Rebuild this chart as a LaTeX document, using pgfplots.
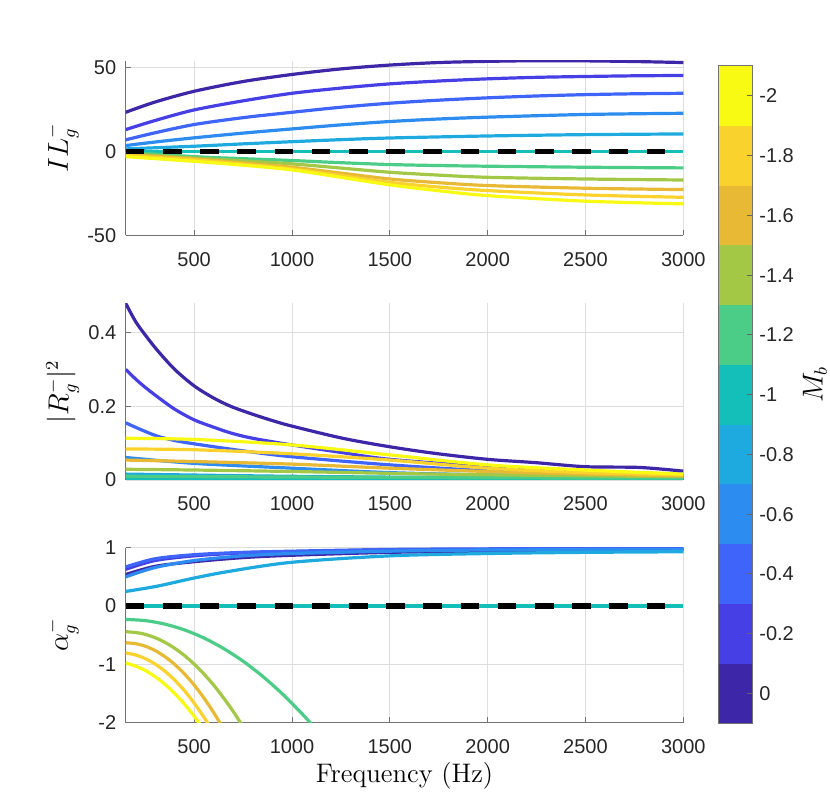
\documentclass[border=0pt]{standalone}
\usepackage{fontspec}
\usepackage{pgfplots}
\pgfplotsset{compat=1.18}
\newfontfamily\tickfont{Liberation Sans}
\definecolor{c00}{RGB}{62,38,168}
\definecolor{c02}{RGB}{71,63,230}
\definecolor{c04}{RGB}{62,100,250}
\definecolor{c06}{RGB}{45,140,240}
\definecolor{c08}{RGB}{30,170,223}
\definecolor{c10}{RGB}{20,190,185}
\definecolor{c12}{RGB}{75,205,135}
\definecolor{c14}{RGB}{162,200,70}
\definecolor{c16}{RGB}{232,185,52}
\definecolor{c18}{RGB}{250,210,45}
\definecolor{c20}{RGB}{249,250,20}
\pgfplotsset{
  myax/.style={
    scale only axis, width=278.8pt, anchor=south west,
    xmin=150, xmax=3000,
    axis x line=bottom, axis y line=left,
    axis line style={-, black!55, line width=0.5pt},
    xtick={500,1000,1500,2000,2500,3000},
    xticklabels={500,1000,1500,2000,2500,3000},
    grid=major, major grid style={color=black!13, line width=0.45pt},
    tick align=inside, major tick length=2.8pt,
    tick style={black!55, line width=0.5pt},
    ticklabel style={font=\tickfont\fontsize{10}{12}\selectfont, text=black!85},
    xticklabel style={yshift=-4.9pt},
    yticklabel style={xshift=-1.2pt},
    ylabel style={at={(axis description cs:-0.113,0.5)}, anchor=center, font=\fontsize{13.4}{15}\selectfont},
    every axis plot/.append style={line width=1.6pt, smooth},
  },
  dashz/.style={black, line width=2.6pt, dash pattern=on 9.3pt off 9.3pt, sharp plot},
}
\begin{document}
\begin{tikzpicture}
\useasboundingbox (0,0) rectangle (415pt,406pt);
% ---------------- top: IL ----------------
\begin{axis}[myax, at={(62.85pt,288.35pt)}, height=87.3pt,
  ymin=-50, ymax=53.9, ytick={-50,0,50}, yticklabels={-50,0,50},
  ylabel={$IL_g^-$}]
\addplot[c00] coordinates {(150,23.2) (300,29.3) (500,35.7) (750,41.5) (1000,45.7) (1250,49.0) (1500,51.3) (1750,52.8) (2000,53.5) (2250,53.9) (2500,53.8) (2750,53.4) (3000,52.8)};
\addplot[c02] coordinates {(150,12.9) (300,18.3) (500,24.6) (750,30.0) (1000,34.5) (1250,37.6) (1500,40.1) (1750,41.8) (2000,43.1) (2250,44.0) (2500,44.5) (2750,44.9) (3000,45.1)};
\addplot[c04] coordinates {(150,6.8) (300,11.0) (500,15.9) (750,20.0) (1000,23.2) (1250,26.2) (1500,28.6) (1750,30.4) (2000,31.8) (2250,32.9) (2500,33.7) (2750,34.2) (3000,34.5)};
\addplot[c06] coordinates {(150,3.4) (300,5.5) (500,8.0) (750,10.8) (1000,13.3) (1250,15.7) (1500,17.7) (1750,19.2) (2000,20.3) (2500,21.9) (3000,22.6)};
\addplot[c08] coordinates {(150,1.4) (500,3.0) (750,4.4) (1000,5.7) (1250,6.9) (1500,7.9) (2000,9.1) (2500,9.9) (3000,10.3)};
\addplot[c10] coordinates {(150,0) (3000,0)};
\addplot[c12] coordinates {(150,-0.5) (500,-3.2) (750,-4.4) (1000,-5.5) (1250,-6.8) (1500,-7.9) (1750,-8.5) (2000,-8.9) (2500,-9.5) (3000,-9.9)};
\addplot[c14] coordinates {(150,-1.5) (500,-4.0) (750,-5.7) (1000,-7.5) (1250,-10.0) (1500,-12.5) (1750,-14.2) (2000,-15.5) (2500,-16.5) (3000,-17.1)};
\addplot[c16] coordinates {(150,-2.0) (500,-4.6) (750,-7.0) (1000,-9.5) (1250,-13.0) (1500,-16.5) (1750,-18.7) (2000,-20.4) (2500,-22.0) (3000,-22.8)};
\addplot[c18] coordinates {(150,-2.6) (500,-5.1) (750,-7.7) (1000,-10.5) (1250,-14.5) (1500,-18.5) (1750,-21.3) (2000,-23.4) (2500,-26.0) (3000,-27.4)};
\addplot[c20] coordinates {(150,-3.2) (500,-6.0) (750,-8.3) (1000,-11.1) (1250,-15.5) (1500,-20.0) (1750,-23.5) (2000,-26.4) (2500,-29.7) (3000,-31.3)};
\addplot[dashz] coordinates {(150,0) (3000,0)};
\end{axis}
% ---------------- middle: |R|^2 ----------------
\begin{axis}[myax, at={(62.85pt,166pt)}, height=88.35pt,
  ymin=0, ymax=0.479, ytick={0,0.2,0.4}, yticklabels={0,0.2,0.4},
  ylabel={$|R_g^-|^2$}]
\addplot[c00] coordinates {(150,0.479) (200,0.430) (250,0.393) (311,0.352) (400,0.300) (500,0.255) (600,0.222) (690,0.199) (800,0.178) (900,0.161) (1000,0.146) (1260,0.113) (1500,0.090) (1733,0.072) (2000,0.056) (2245,0.047) (2500,0.036) (2775,0.034) (3000,0.024)};
\addplot[c02] coordinates {(150,0.300) (200,0.274) (250,0.251) (311,0.226) (400,0.192) (500,0.163) (600,0.143) (690,0.127) (800,0.113) (1000,0.095) (1260,0.074) (1500,0.056) (2000,0.036) (2500,0.022) (3000,0.016)};
\addplot[c04] coordinates {(150,0.155) (230,0.136) (311,0.119) (400,0.107) (500,0.098) (750,0.079) (1000,0.063) (1500,0.041) (2000,0.025) (2500,0.016) (3000,0.011)};
\addplot[c06] coordinates {(150,0.061) (500,0.045) (1000,0.032) (1500,0.020) (2000,0.014) (3000,0.007)};
\addplot[c08] coordinates {(150,0.016) (1000,0.010) (2000,0.006) (3000,0.004)};
\addplot[c10] coordinates {(150,0.001) (3000,0.001)};
\addplot[c12] coordinates {(150,0.010) (1000,0.008) (2000,0.006) (3000,0.005)};
\addplot[c14] coordinates {(150,0.029) (500,0.027) (1000,0.023) (1500,0.018) (2000,0.014) (3000,0.009)};
\addplot[c16] coordinates {(150,0.054) (500,0.050) (1000,0.043) (1500,0.032) (2000,0.023) (2500,0.016) (3000,0.011)};
\addplot[c18] coordinates {(150,0.084) (500,0.082) (1000,0.071) (1500,0.054) (2000,0.032) (2500,0.020) (3000,0.014)};
\addplot[c20] coordinates {(150,0.113) (500,0.110) (1000,0.095) (1500,0.068) (2000,0.041) (2500,0.027) (3000,0.016)};
\end{axis}
% ---------------- bottom: alpha ----------------
\begin{axis}[myax, at={(62.85pt,44.65pt)}, height=87.5pt,
  ymin=-2, ymax=1, ytick={-2,-1,0,1}, yticklabels={-2,-1,0,1},
  ylabel={$\alpha_g^-$},
  xlabel={Frequency (Hz)},
  xlabel style={at={(axis description cs:0.5,0)}, anchor=center, yshift=-26.7pt, font=\fontsize{13.4}{15}\selectfont}]
\addplot[c00] coordinates {(150,0.54) (300,0.68) (500,0.76) (750,0.83) (1000,0.87) (1500,0.92) (2000,0.94) (2500,0.95) (3000,0.96)};
\addplot[c02] coordinates {(150,0.63) (300,0.78) (500,0.86) (750,0.91) (1000,0.93) (1500,0.96) (2000,0.97) (3000,0.98)};
\addplot[c04] coordinates {(150,0.67) (300,0.81) (500,0.88) (750,0.92) (1000,0.94) (1500,0.97) (2000,0.98) (3000,0.99)};
\addplot[c06] coordinates {(150,0.50) (300,0.66) (500,0.78) (750,0.86) (1000,0.90) (1500,0.94) (2000,0.96) (3000,0.97)};
\addplot[c08] coordinates {(150,0.25) (311,0.34) (500,0.48) (689,0.60) (1000,0.75) (1500,0.86) (2000,0.90) (2500,0.92) (3000,0.93)};
\addplot[c10] coordinates {(150,0) (3000,0)};
\addplot[c12] coordinates {(150,-0.230) (250,-0.250) (350,-0.310) (450,-0.409) (550,-0.548) (650,-0.728) (750,-0.946) (850,-1.205) (950,-1.504) (1050,-1.842) (1100,-2.026) (1130,-2.141)};
\addplot[c14] coordinates {(150,-0.440) (225,-0.466) (300,-0.542) (375,-0.669) (450,-0.848) (525,-1.077) (600,-1.357) (675,-1.689) (725,-1.938) (750,-2.071) (770,-2.181)};
\addplot[c16] coordinates {(150,-0.630) (200,-0.645) (250,-0.689) (300,-0.763) (350,-0.867) (400,-1.000) (450,-1.163) (500,-1.355) (550,-1.577) (600,-1.829) (630,-1.994) (660,-2.170)};
\addplot[c18] coordinates {(150,-0.805) (200,-0.838) (250,-0.901) (300,-0.994) (350,-1.116) (400,-1.269) (450,-1.451) (500,-1.664) (550,-1.906) (570,-2.011) (590,-2.121)};
\addplot[c20] coordinates {(150,-0.975) (200,-1.030) (250,-1.105) (300,-1.210) (350,-1.340) (400,-1.497) (450,-1.680) (500,-1.890) (525,-2.005) (545,-2.105)};
\addplot[dashz] coordinates {(150,0) (3000,0)};
\end{axis}
% ---------------- colorbar ----------------
\begin{axis}[at={(359.35pt,44.35pt)}, anchor=south west, scale only axis,
  width=16.8pt, height=328.65pt,
  xmin=0, xmax=1, ymin=-2.1, ymax=0.1, y dir=reverse,
  xtick=\empty,
  ytick={-2,-1.8,-1.6,-1.4,-1.2,-1,-0.8,-0.6,-0.4,-0.2,0},
  yticklabels={-2,-1.8,-1.6,-1.4,-1.2,-1,-0.8,-0.6,-0.4,-0.2,0},
  ytick pos=right, yticklabel pos=right,
  tick align=inside, major tick length=2.8pt,
  tick style={black!60, line width=0.5pt},
  axis line style={black!55, line width=0.5pt},
  axis on top,
  ticklabel style={font=\tickfont\fontsize{10}{12}\selectfont, text=black!85},
  ylabel={$M_b$},
  ylabel style={at={(axis description cs:2.863,0.515)}, anchor=center, rotate=0, font=\fontsize{13.4}{15}\selectfont}]
\addplot[fill=c20, draw=none] coordinates {(0,-2.1) (1,-2.1) (1,-1.9) (0,-1.9)} --cycle;
\addplot[fill=c18, draw=none] coordinates {(0,-1.9) (1,-1.9) (1,-1.7) (0,-1.7)} --cycle;
\addplot[fill=c16, draw=none] coordinates {(0,-1.7) (1,-1.7) (1,-1.5) (0,-1.5)} --cycle;
\addplot[fill=c14, draw=none] coordinates {(0,-1.5) (1,-1.5) (1,-1.3) (0,-1.3)} --cycle;
\addplot[fill=c12, draw=none] coordinates {(0,-1.3) (1,-1.3) (1,-1.1) (0,-1.1)} --cycle;
\addplot[fill=c10, draw=none] coordinates {(0,-1.1) (1,-1.1) (1,-0.9) (0,-0.9)} --cycle;
\addplot[fill=c08, draw=none] coordinates {(0,-0.9) (1,-0.9) (1,-0.7) (0,-0.7)} --cycle;
\addplot[fill=c06, draw=none] coordinates {(0,-0.7) (1,-0.7) (1,-0.5) (0,-0.5)} --cycle;
\addplot[fill=c04, draw=none] coordinates {(0,-0.5) (1,-0.5) (1,-0.3) (0,-0.3)} --cycle;
\addplot[fill=c02, draw=none] coordinates {(0,-0.3) (1,-0.3) (1,-0.1) (0,-0.1)} --cycle;
\addplot[fill=c00, draw=none] coordinates {(0,-0.1) (1,-0.1) (1,0.1) (0,0.1)} --cycle;
\end{axis}
\end{tikzpicture}
\end{document}
